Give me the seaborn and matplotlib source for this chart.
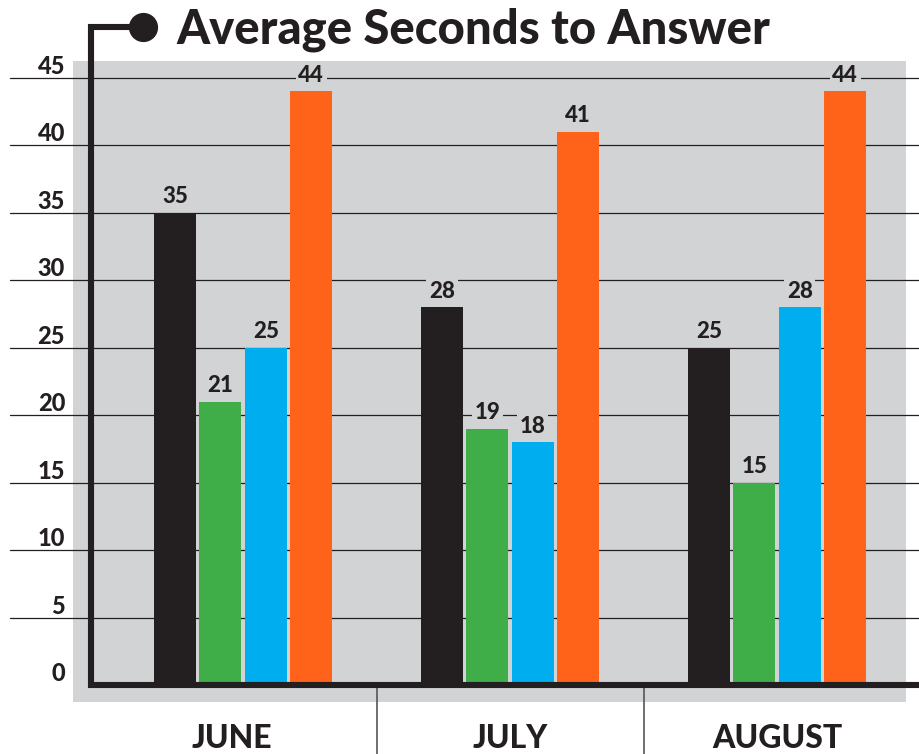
import matplotlib
matplotlib.use("Agg")
import matplotlib.pyplot as plt
from matplotlib.lines import Line2D
from matplotlib import transforms
import seaborn as sns
import pandas as pd

months = ["JUNE", "JULY", "AUGUST"]
series = ["Series 1", "Series 2", "Series 3", "Series 4"]
black_vals = [35, 28, 25]
green_vals = [21, 19, 15]
blue_vals = [25, 18, 28]
orange_vals = [44, 41, 44]
y_ticks = [0, 5, 10, 15, 20, 25, 30, 35, 40, 45]
title = "Average Seconds to Answer"

colors = ["#231f20", "#3fae49", "#00aeef", "#ff6319"]
bg = "#d1d3d4"
ink = "#231f20"
heavy = 900

rows = []
for name, vals in zip(series, [black_vals, green_vals, blue_vals, orange_vals]):
    for m, v in zip(months, vals):
        rows.append({"month": m, "series": name, "seconds": v})
df = pd.DataFrame(rows)

sns.set_style("white")
plt.rcParams["font.family"] = ["Lato", "DejaVu Sans"]

W, H = 919, 754
fig = plt.figure(figsize=(W / 100, H / 100), dpi=100)
ax = fig.add_axes([73 / W, 52 / H, 833 / W, 641 / H])
ax.set_facecolor(bg)

sns.barplot(data=df, x="month", y="seconds", hue="series", palette=colors,
            width=0.68, gap=0.08, saturation=1, legend=False, ax=ax,
            linewidth=0, zorder=2)

ax.set_xlim(-0.637, 2.483)
ax.set_ylim(-1.26, 46.26)
for s in ax.spines.values():
    s.set_visible(False)
ax.set_xlabel("")
ax.set_ylabel("")
ax.set_yticks([])
ax.tick_params(axis="x", length=0, pad=16, labelsize=23, labelcolor=ink)
for i, lbl in enumerate(ax.get_xticklabels()):
    lbl.set_fontweight(heavy)
    if i == 0:
        lbl.set_transform(lbl.get_transform() + transforms.Affine2D().translate(-11, 0))

# gridlines running past the panel
for v in y_ticks[1:]:
    ax.axhline(v, xmin=-0.0756, xmax=1.0156, color=ink, lw=0.9,
               clip_on=False, zorder=0.5)

# y tick labels sit on top of their gridline
ytr = ax.get_yaxis_transform()
for v in y_ticks:
    ax.text(-0.0096, v + 0.3, str(v), transform=ytr, ha="right", va="baseline",
            fontsize=17, fontweight=heavy, color=ink)

# value labels
for c in ax.containers:
    ax.bar_label(c, padding=4, fontsize=16, fontweight=heavy, color=ink,
                 bbox=dict(boxstyle="square,pad=0.12", fc=bg, ec="none"))

# separators between months
for x in [0.5, 1.5]:
    ax.axvline(x, ymin=-0.081, ymax=0.0234, color="#555555", lw=1.2,
               clip_on=False)

# bracket axis line with the title dot
px = lambda x: x / W
py = lambda y: 1 - y / H
fig.add_artist(Line2D([px(143), px(90.5), px(90.5), px(919)],
                      [py(27), py(27), py(685), py(685)],
                      color=ink, lw=4.4, solid_joinstyle="miter",
                      solid_capstyle="butt", zorder=5))
fig.add_artist(Line2D([px(143)], [py(27)], marker="o", markersize=20,
                      color=ink, zorder=6))

fig.text(px(176), py(43), title, fontsize=34, fontweight=heavy, color=ink,
         ha="left", va="baseline")

fig.savefig("out.png", dpi=100, facecolor="white")
